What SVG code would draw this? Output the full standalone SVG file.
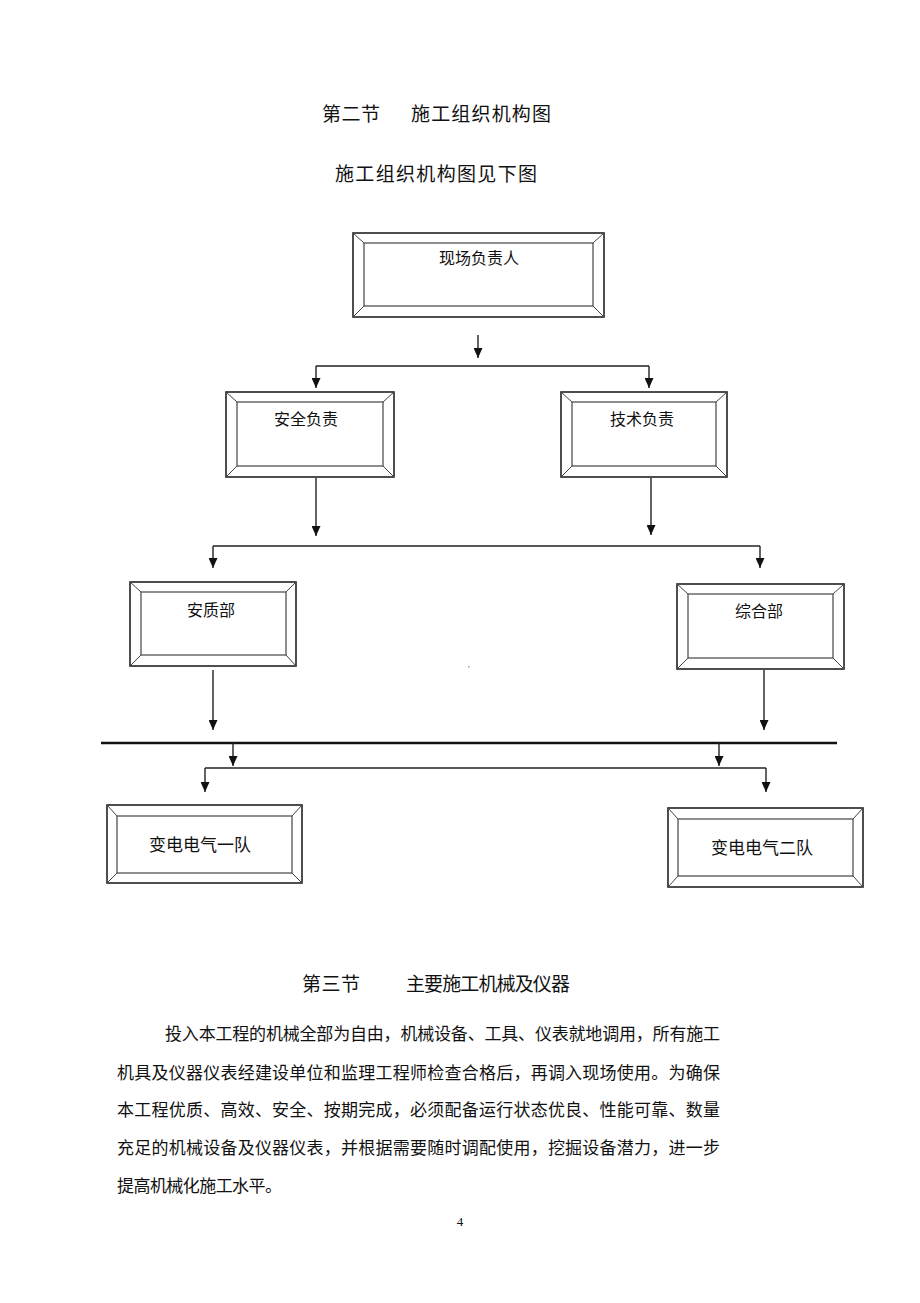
<svg xmlns="http://www.w3.org/2000/svg" width="920" height="1303" viewBox="0 0 920 1303">
<style>
text{font-family:"Liberation Serif","Noto Sans CJK SC",serif;fill:#111}
.lbl{font-size:16px;text-anchor:middle}
.h{font-size:19px}
.p{font-size:17px}
.o{fill:#fff;stroke:#222;stroke-width:1.6}
.i{fill:none;stroke:#444;stroke-width:1.2}
.d{stroke:#444;stroke-width:1}
.c{fill:none;stroke:#222;stroke-width:1.4}
</style>
<defs>
<marker id="ah" markerWidth="10" markerHeight="9" refX="10" refY="4.5" orient="auto" markerUnits="userSpaceOnUse" viewBox="0 0 10 9">
<path d="M0,0 L10,4.5 L0,9 Z" fill="#111"/>
</marker>
</defs>
<rect width="920" height="1303" fill="#fff"/>

<text class="h" x="322" y="121" textLength="58">第二节</text>
<text class="h" x="411" y="121" textLength="140">施工组织机构图</text>
<text class="h" x="335" y="181" textLength="202">施工组织机构图见下图</text>

<g id="n1">
<rect class="o" x="353" y="233" width="251" height="84"/>
<rect class="i" x="364" y="243" width="229" height="63"/>
<path class="d" d="M353,233L364,243M604,233L593,243M353,317L364,306M604,317L593,306"/>
<text class="lbl" x="479" y="264">现场负责人</text>
</g>
<g id="n2">
<rect class="o" x="226" y="392" width="168" height="85"/>
<rect class="i" x="237" y="402" width="146" height="64"/>
<path class="d" d="M226,392L237,402M394,392L383,402M226,477L237,466M394,477L383,466"/>
<text class="lbl" x="306" y="425">安全负责</text>
</g>
<g id="n3">
<rect class="o" x="561" y="392" width="166" height="85"/>
<rect class="i" x="572" y="402" width="144" height="64"/>
<path class="d" d="M561,392L572,402M727,392L716,402M561,477L572,466M727,477L716,466"/>
<text class="lbl" x="642" y="425">技术负责</text>
</g>
<g id="n4">
<rect class="o" x="130" y="582" width="166" height="84"/>
<rect class="i" x="141" y="592" width="145" height="63"/>
<path class="d" d="M130,582L141,592M296,582L286,592M130,666L141,655M296,666L286,655"/>
<text class="lbl" x="211" y="616">安质部</text>
</g>
<g id="n5">
<rect class="o" x="677" y="584" width="167" height="85"/>
<rect class="i" x="688" y="594" width="145" height="64"/>
<path class="d" d="M677,584L688,594M844,584L833,594M677,669L688,658M844,669L833,658"/>
<text class="lbl" x="759" y="617">综合部</text>
</g>
<g id="n6">
<rect class="o" x="107" y="805" width="195" height="78"/>
<rect class="i" x="117" y="816" width="175" height="57"/>
<path class="d" d="M107,805L117,816M302,805L292,816M107,883L117,873M302,883L292,873"/>
<text class="lbl" x="200" y="851" style="font-size:17px">变电电气一队</text>
</g>
<g id="n7">
<rect class="o" x="668" y="808" width="195" height="79"/>
<rect class="i" x="678" y="819" width="175" height="57"/>
<path class="d" d="M668,808L678,819M863,808L853,819M668,887L678,876M863,887L853,876"/>
<text class="lbl" x="762" y="854" style="font-size:17px">变电电气二队</text>
</g>

<g id="connectors">
<path class="c" d="M478,335V358" marker-end="url(#ah)"/>
<path class="c" d="M316,366H649"/>
<path class="c" d="M316,366V388" marker-end="url(#ah)"/>
<path class="c" d="M649,366V388" marker-end="url(#ah)"/>
<path class="c" d="M316,478V536" marker-end="url(#ah)"/>
<path class="c" d="M651,478V535" marker-end="url(#ah)"/>
<path class="c" d="M213,546H760"/>
<path class="c" d="M213,546V568" marker-end="url(#ah)"/>
<path class="c" d="M760,546V568" marker-end="url(#ah)"/>
<path class="c" d="M213,670V730" marker-end="url(#ah)"/>
<path class="c" d="M764,670V730" marker-end="url(#ah)"/>
<path d="M101,743H837" stroke="#111" stroke-width="2.6"/>
<path class="c" d="M233,743V766" marker-end="url(#ah)"/>
<path class="c" d="M719,743V766" marker-end="url(#ah)"/>
<path class="c" d="M205,768H766"/>
<path class="c" d="M205,768V792" marker-end="url(#ah)"/>
<path class="c" d="M766,768V792" marker-end="url(#ah)"/>
</g>
<rect x="468" y="666" width="1.5" height="1.5" fill="#999"/>

<text class="h" x="302" y="991" textLength="58">第三节</text>
<text class="h" x="406" y="991" textLength="164">主要施工机械及仪器</text>

<text class="p" x="165" y="1040" textLength="555">投入本工程的机械全部为自由，机械设备、工具、仪表就地调用，所有施工</text>
<text class="p" x="117" y="1079" textLength="603">机具及仪器仪表经建设单位和监理工程师检查合格后，再调入现场使用。为确保</text>
<text class="p" x="117" y="1116" textLength="603">本工程优质、高效、安全、按期完成，必须配备运行状态优良、性能可靠、数量</text>
<text class="p" x="117" y="1154" textLength="603">充足的机械设备及仪器仪表，并根据需要随时调配使用，挖掘设备潜力，进一步</text>
<text class="p" x="117" y="1192" textLength="165">提高机械化施工水平。</text>
<text x="460" y="1226" style="font-size:13px;text-anchor:middle">4</text>
</svg>
